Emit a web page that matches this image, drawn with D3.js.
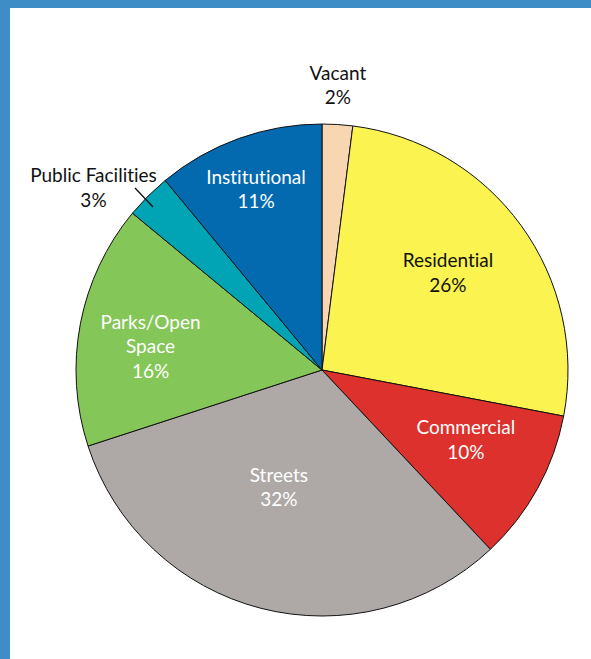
<!DOCTYPE html>
<html>
<head>
<meta charset="utf-8">
<script src="https://cdn.jsdelivr.net/npm/d3@7"></script>
<style>
  html, body { margin: 0; padding: 0; background: #fff; }
  svg { display: block; }
  text { font-variant-ligatures: none; font-feature-settings: "liga" 0; }
</style>
</head>
<body>
<svg></svg>
<script>
// ====== donnees ====== //
const categories = ["Vacant", "Residential", "Commercial", "Streets", "Parks/Open Space", "Public Facilities", "Institutional"];
const shares = [2, 26, 10, 32, 16, 3, 11];
const labelLines = [["Vacant", "2%"], ["Residential", "26%"], ["Commercial", "10%"], ["Streets", "32%"],
                    ["Parks/Open", "Space", "16%"], ["Public Facilities", "3%"], ["Institutional", "11%"]];
const colors = ["#f9d6b2", "#fbf350", "#dc312c", "#aea9a6", "#84c657", "#01a4b4", "#036aaf"];
const textColors = ["#111", "#111", "#fff", "#fff", "#fff", "#111", "#fff"];

// position des etiquettes : angle (deg, depuis le haut) et rayon
const labelPos = [[3.2, 285], [52.4, 159], [116, 160], [200.2, 125], [277.7, 173], [308.5, 292], [339.9, 192]];

const width = 591, height = 659;
const cx = 322, cy = 370, radius = 246;

const svg = d3.select("svg").attr("width", width).attr("height", height);

// cadre bleu
svg.append("rect").attr("x", 0).attr("y", 0).attr("width", width).attr("height", 8).attr("fill", "#3f8dc7");
svg.append("rect").attr("x", 0).attr("y", 0).attr("width", 10).attr("height", height).attr("fill", "#3f8dc7");

const pie = d3.pie().sort(null).value(d => d);
const arcs = pie(shares);
const arc = d3.arc().innerRadius(0).outerRadius(radius);

const g = svg.append("g").attr("transform", `translate(${cx},${cy})`);

g.selectAll("path")
  .data(arcs)
  .enter()
  .append("path")
  .attr("d", arc)
  .attr("fill", (d, i) => colors[i])
  .attr("stroke", "#111")
  .attr("stroke-width", 1);

// trait de rappel pour Public Facilities
g.append("line")
  .attr("x1", 135 - cx).attr("y1", 188 - cy)
  .attr("x2", 153 - cx).attr("y2", 207 - cy)
  .attr("stroke", "#111").attr("stroke-width", 1.3);

const lineH = 24.5;
labelLines.forEach((lines, i) => {
  const a = labelPos[i][0] * Math.PI / 180, r = labelPos[i][1];
  const x = r * Math.sin(a), y = -r * Math.cos(a);
  const t = g.append("text")
    .attr("text-anchor", "middle")
    .attr("font-family", "Lato, 'Open Sans', sans-serif")
    .attr("font-size", 19)
    .attr("fill", textColors[i]);
  lines.forEach((s, k) => {
    t.append("tspan")
      .attr("x", x)
      .attr("y", y + (k - (lines.length - 1) / 2) * lineH + 6.5)
      .text(s);
  });
});
</script>
</body>
</html>
